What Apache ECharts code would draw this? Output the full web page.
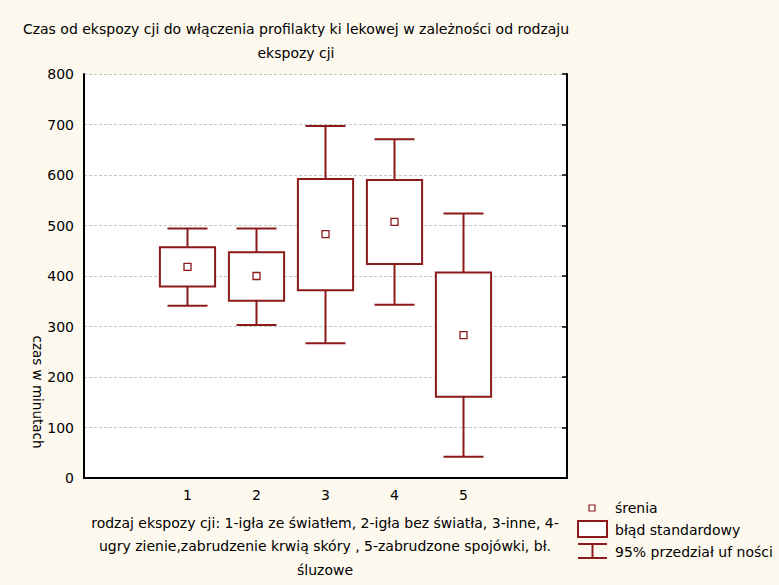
<!DOCTYPE html>
<html><head><meta charset="utf-8">
<script src="https://cdn.jsdelivr.net/npm/echarts@6/dist/echarts.min.js"></script>
<style>html,body{margin:0;padding:0;background:#FEF9EE}#c{width:779px;height:585px}</style>
</head><body><div id="c"></div>
<script>
// --- data ---
const categories = ['', '1', '2', '3', '4', '5', ''];
const groupIndex = [1, 2, 3, 4, 5];
const ciLow  = [341, 303, 267, 343, 42];
const seLow  = [379, 351, 372, 424, 161];
const means  = [418, 400, 483, 507, 283];
const seHigh = [457, 447, 592, 590, 407];
const ciHigh = [494, 494, 697, 671, 524];
const yMin = 0, yMax = 800, yStep = 100;
const titleText = 'Czas od ekspozy cji do włączenia profilakty ki lekowej w zależności od rodzaju\nekspozy cji';
const yName = 'czas w minutach';
const xName = 'rodzaj ekspozy cji: 1-igła ze światłem, 2-igła bez światła, 3-inne, 4-\nugry zienie,zabrudzenie krwią skóry , 5-zabrudzone spojówki, bł.\nśluzowe';
const legendLabels = ['śrenia', 'błąd standardowy', '95% przedział uf ności'];

const RED = '#8C1A1A';
const FONT = 'DejaVu Sans';
const F14 = '14px "' + FONT + '"';
const chart = echarts.init(document.getElementById('c'), null, {renderer: 'svg'});

const seriesData = groupIndex.map((g, i) => [g, ciLow[i], seLow[i], means[i], seHigh[i], ciHigh[i]]);

function renderItem(params, api) {
  const x = api.value(0);
  const pCiL = api.coord([x, api.value(1)]);
  const pSeL = api.coord([x, api.value(2)]);
  const pM = api.coord([x, api.value(3)]);
  const pSeH = api.coord([x, api.value(4)]);
  const pCiH = api.coord([x, api.value(5)]);
  const band = api.size([1, 0])[0];
  const bw = band * 0.8, cw = band * 0.58, cx = pM[0];
  const ls = {stroke: RED, lineWidth: 2};
  return {type: 'group', children: [
    {type: 'line', shape: {x1: cx, y1: pCiH[1], x2: cx, y2: pSeH[1]}, style: ls},
    {type: 'line', shape: {x1: cx, y1: pSeL[1], x2: cx, y2: pCiL[1]}, style: ls},
    {type: 'line', shape: {x1: cx - cw / 2, y1: pCiH[1], x2: cx + cw / 2, y2: pCiH[1]}, style: ls},
    {type: 'line', shape: {x1: cx - cw / 2, y1: pCiL[1], x2: cx + cw / 2, y2: pCiL[1]}, style: ls},
    {type: 'rect', shape: {x: cx - bw / 2, y: pSeH[1], width: bw, height: pSeL[1] - pSeH[1]}, style: {fill: '#fff', stroke: RED, lineWidth: 2}},
    {type: 'rect', shape: {x: cx - 3.5, y: pM[1] - 3.5, width: 7, height: 7}, style: {fill: '#fff', stroke: RED, lineWidth: 1.3}}
  ]};
}

const axisLineStyle = {color: '#000', width: 2};
const txt = {fontFamily: FONT, fontSize: 14, color: '#000'};

chart.setOption({
  backgroundColor: '#FEF9EE',
  animation: false,
  grid: {left: 84, right: 212, top: 74, bottom: 107, show: true, backgroundColor: '#fff', borderWidth: 0},
  xAxis: [
    {type: 'category', data: categories, position: 'bottom', boundaryGap: true,
      axisLine: {lineStyle: axisLineStyle},
      axisTick: {alignWithLabel: true, inside: true, length: 5, interval: 0, lineStyle: {color: '#000', width: 1.5}},
      axisLabel: Object.assign({margin: 10, interval: 0}, txt),
      splitLine: {show: false}},
    {type: 'category', data: categories, position: 'top', boundaryGap: true,
      axisLine: {lineStyle: axisLineStyle},
      axisTick: {alignWithLabel: true, inside: true, length: 5, interval: 0, lineStyle: {color: '#000', width: 1.5}},
      axisLabel: {show: false}, splitLine: {show: false}}
  ],
  yAxis: [
    {type: 'value', min: yMin, max: yMax, interval: yStep, position: 'left',
      axisLine: {show: true, lineStyle: axisLineStyle},
      axisTick: {show: false},
      axisLabel: Object.assign({margin: 10}, txt),
      splitLine: {show: true, lineStyle: {color: '#c4c4c4', type: [3, 2], width: 1}}},
    {type: 'value', min: yMin, max: yMax, interval: yStep, position: 'right',
      axisLine: {show: true, lineStyle: axisLineStyle},
      axisTick: {show: true, inside: true, length: 5, lineStyle: {color: '#000', width: 1.5}},
      axisLabel: {show: false}, splitLine: {show: false}}
  ],
  series: [{
    type: 'custom', xAxisIndex: 0, yAxisIndex: 0,
    data: seriesData, encode: {x: 0, y: [1, 2, 3, 4, 5]},
    renderItem: renderItem, z: 5
  }],
  graphic: [
    {type: 'text', x: 296, y: 17, style: {text: titleText, align: 'center', verticalAlign: 'top', font: F14, fill: '#000', lineHeight: 24}},
    {type: 'text', x: 38, y: 392, rotation: -Math.PI / 2, style: {text: yName, align: 'center', verticalAlign: 'middle', font: '13.5px "' + FONT + '"', fill: '#000'}},
    {type: 'text', x: 325, y: 511, style: {text: xName, align: 'center', verticalAlign: 'top', font: F14, fill: '#000', lineHeight: 23.5}},
    // legend
    {type: 'rect', shape: {x: 589, y: 505, width: 6, height: 6}, style: {fill: '#fff', stroke: RED, lineWidth: 1.2}},
    {type: 'text', x: 615, y: 508, style: {text: legendLabels[0], verticalAlign: 'middle', font: F14, fill: '#000'}},
    {type: 'rect', shape: {x: 578, y: 521, width: 29, height: 16}, style: {fill: '#fff', stroke: RED, lineWidth: 2}},
    {type: 'text', x: 615, y: 530, style: {text: legendLabels[1], verticalAlign: 'middle', font: F14, fill: '#000'}},
    {type: 'line', shape: {x1: 578, y1: 544, x2: 607, y2: 544}, style: {stroke: RED, lineWidth: 2}},
    {type: 'line', shape: {x1: 592.5, y1: 544, x2: 592.5, y2: 558}, style: {stroke: RED, lineWidth: 2}},
    {type: 'line', shape: {x1: 578, y1: 558, x2: 607, y2: 558}, style: {stroke: RED, lineWidth: 2}},
    {type: 'text', x: 615, y: 552, style: {text: legendLabels[2], verticalAlign: 'middle', font: F14, fill: '#000'}}
  ]
});
</script>
</body></html>
